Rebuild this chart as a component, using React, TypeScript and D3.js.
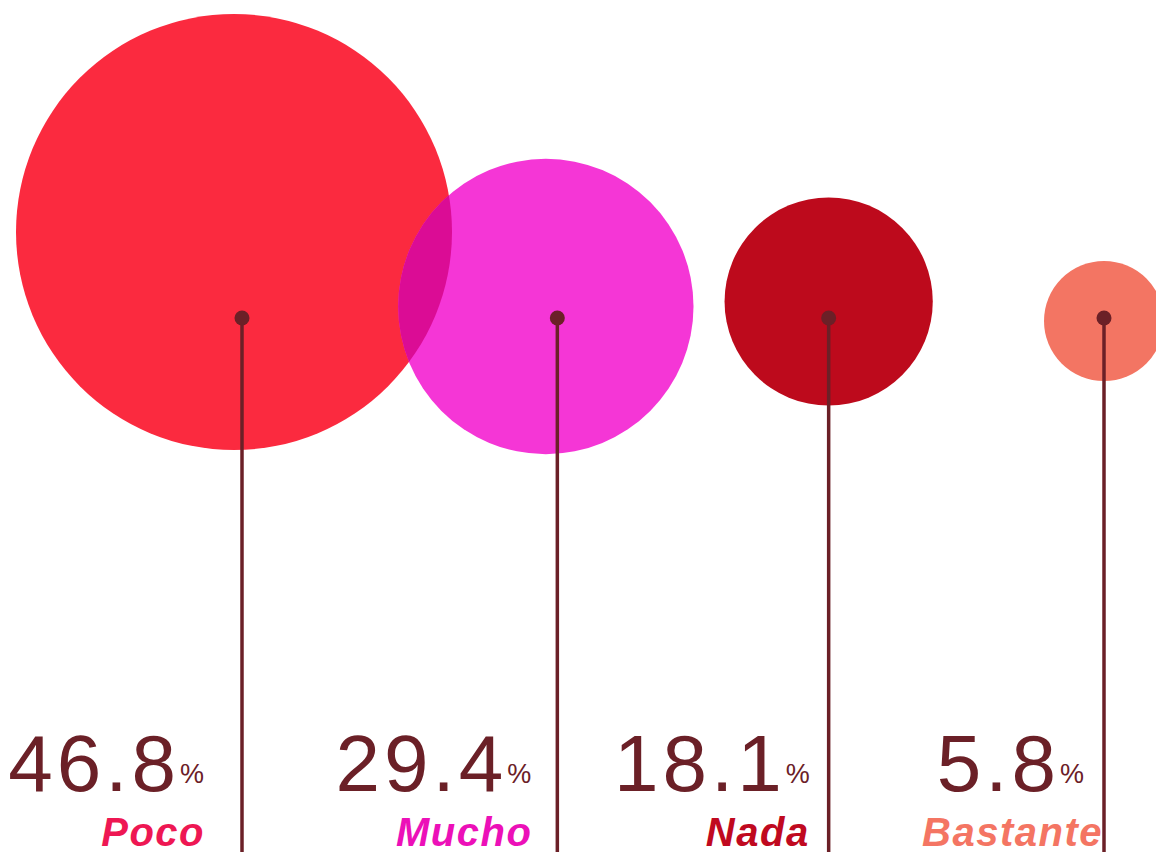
import React, { useEffect } from "react";
import * as d3 from "d3";

// ---- data ----
const categories = ["Poco", "Mucho", "Nada", "Bastante"];
const values = [46.8, 29.4, 18.1, 5.8];

// ---- styles ----
const circleColors = ["#FB2A3F", "#F536D6", "#BD0A1C", "#F37563"];
const labelColors = ["#EE1753", "#EC10B8", "#C0091F", "#F47563"];
const overlapColor = "#DB0C95";
const ink = "#6B2027";

// ---- layout ----
const W = 1156;
const H = 852;
const anchorNudge = [0, 28, 12, 0];
const circleOffset: [number, number][] = [[-8, -86], [-11.5, -11.5], [0, -16.5], [0, 3]];
const valueEndOffset = [-38, -26, -19, -20];
const labelEndOffset = [-37, -25, -19, -1];
const anchorY = 318;
const valueBaseline = 791;
const labelBaseline = 846;

export default function App() {
  useEffect(() => {
    document.body.style.margin = "0";
  }, []);

  const x = d3.scalePoint<string>().domain(categories).range([242, 1104]);
  const r = d3
    .scalePow()
    .exponent(1.1)
    .domain([d3.min(values) as number, d3.max(values) as number])
    .range([60, 218]);

  const items = categories.map((c, i) => {
    const ax = (x(c) as number) + anchorNudge[i];
    return {
      c,
      v: values[i],
      ax,
      cx: ax + circleOffset[i][0],
      cy: anchorY + circleOffset[i][1],
      r: r(values[i]),
      i,
    };
  });

  const fmt = d3.format(".1f");

  return (
    <svg width={W} height={H} style={{ display: "block" }} fontFamily="'Liberation Sans', Arial, Helvetica, sans-serif">
      <defs>
        <clipPath id="clip-first">
          <circle cx={items[0].cx} cy={items[0].cy} r={items[0].r} />
        </clipPath>
      </defs>
      {items.map((d) => (
        <circle key={"c" + d.c} cx={d.cx} cy={d.cy} r={d.r} fill={circleColors[d.i]} />
      ))}
      <circle
        cx={items[1].cx}
        cy={items[1].cy}
        r={items[1].r}
        fill={overlapColor}
        clipPath="url(#clip-first)"
      />
      {items.map((d) => (
        <g key={"l" + d.c}>
          <line x1={d.ax} x2={d.ax} y1={anchorY} y2={H} stroke={ink} strokeWidth={3.5} />
          <circle cx={d.ax} cy={anchorY} r={7.5} fill={ink} />
          <text
            x={d.ax + valueEndOffset[d.i]}
            y={valueBaseline}
            textAnchor="end"
            fontSize={80}
            letterSpacing={4}
            fill={ink}
          >
            {fmt(d.v)}
            <tspan fontSize={27} dy={-8} dx={0} letterSpacing={0}>%</tspan>
          </text>
          <text
            x={d.ax + labelEndOffset[d.i]}
            y={labelBaseline}
            textAnchor="end"
            fontSize={40}
            fontWeight="bold"
            fontStyle="italic"
            letterSpacing={1.5}
            fill={labelColors[d.i]}
          >
            {d.c}
          </text>
        </g>
      ))}
    </svg>
  );
}
